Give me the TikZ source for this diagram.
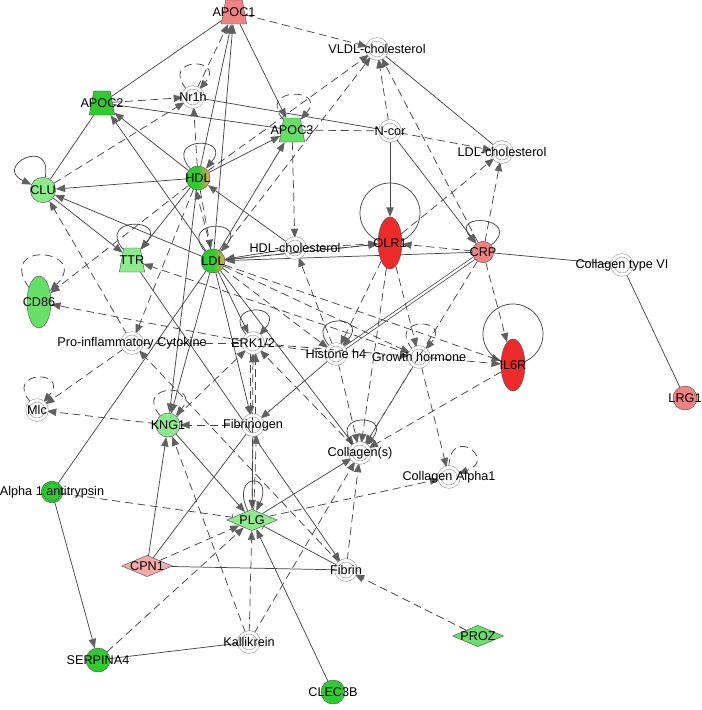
\documentclass[tikz,border=0pt]{standalone}
\usepackage{fontspec}
\setmainfont{Liberation Sans}
\usetikzlibrary{shapes.geometric,arrows.meta,backgrounds}

\definecolor{edgegray}{HTML}{454545}
\definecolor{tipgray}{HTML}{606060}
\definecolor{greenc}{HTML}{2ECC2E}
\definecolor{midgreen}{HTML}{66E066}
\definecolor{lightgreen}{HTML}{8DEA8D}
\definecolor{pinkc}{HTML}{F08282}
\definecolor{lightpink}{HTML}{F5A9A9}
\definecolor{redc}{HTML}{EE2B2B}
\definecolor{hdlorange}{HTML}{F0A050}

\begin{document}
\begin{tikzpicture}[
    x=0.75pt, y=-0.75pt,
    font=\fontsize{9.5}{10}\selectfont,
    mol/.style={circle, draw=gray!75, double=white, double distance=2pt, line width=0.45pt, minimum size=14.5pt, inner sep=0pt},
    gene/.style={circle, draw=gray!60!black, line width=0.3pt, minimum size=18pt, inner sep=0pt},
    enzyme/.style={diamond, draw=gray!60!black, line width=0.3pt, minimum width=38pt, minimum height=16pt, inner sep=1pt},
    transp/.style={trapezium, trapezium left angle=75, trapezium right angle=75, trapezium stretches=true, draw=gray!60!black, line width=0.3pt, minimum width=19pt, minimum height=18pt, inner sep=1pt},
    recept/.style={ellipse, draw=gray!60!black, line width=0.3pt, minimum width=18pt, minimum height=39pt, inner sep=1pt},
    hdlshade/.style={left color=greenc, right color=hdlorange, middle color=greenc},
    plainline/.style={draw=edgegray, line width=0.55pt},
    dashedline/.style={plainline, dash pattern=on 6pt off 3.5pt},
    solidarrow/.style={plainline, -{Triangle[length=7pt,width=5.5pt,color=tipgray]}},
    dashedarrow/.style={dashedline, -{Triangle[length=7pt,width=5.5pt,color=tipgray]}},
    inhibit/.style={dashedline, -{Bar[width=6pt,color=tipgray]}},
    selfloop/.style={loop, out=130, in=50, min distance=32pt},
]
\useasboundingbox (0,0) rectangle (702,710);

% Lipids and apolipoproteins
\node[transp, fill=pinkc, label=center:APOC1] (apoc1) at (234,12) {};
\node[transp, fill=greenc, label=center:APOC2] (apoc2) at (102,103) {};
\node[transp, fill=midgreen, label=center:APOC3] (apoc3) at (292,130) {};
\node[mol, label=center:Nr1h] (nr1h) at (193,97) {};
\node[mol, label=center:VLDL-cholesterol] (vldl) at (377,49) {};
\node[mol, label=center:N-cor] (ncor) at (390,131) {};
\node[mol, label=center:LDL-cholesterol] (ldlchol) at (502,152) {};
\node[gene, fill=lightgreen, minimum size=19pt, label=center:CLU] (clu) at (43,190) {};
\node[gene, hdlshade, label=center:HDL] (hdl) at (198,178) {};
\node[gene, hdlshade, label=center:LDL] (ldl) at (213,261) {};
\node[transp, fill=lightgreen, label=center:TTR] (ttr) at (132,260) {};
\node[mol, label=center:HDL-cholesterol] (hdlchol) at (295,248) {};
\node[recept, fill=redc, label=center:OLR1] (olr1) at (390,243) {};
\node[gene, fill=pinkc, minimum size=16pt, label=center:CRP] (crp) at (483,252) {};
\node[mol, label=center:Collagen type VI] (coll6) at (622,265) {};
\node[gene, fill=pinkc, label=center:LRG1] (lrg1) at (685,398) {};

% Signalling
\node[recept, fill=midgreen, label=center:CD86] (cd86) at (39,302) {};
\node[mol, label=center:Pro-inflammatory Cytokine] (proinf) at (132,343) {};
\node[mol, label=center:ERK1/2] (erk) at (253,343) {};
\node[mol, label=center:Histone h4] (histone) at (336,354) {};
\node[mol, label=center:Growth hormone] (ghormone) at (419,357) {};
\node[recept, fill=redc, label=center:IL6R] (il6r) at (513,365) {};
\node[mol, label=center:Mlc] (mlc) at (37,410) {};
\node[gene, fill=lightgreen, label=center:KNG1] (kng1) at (168,425) {};
\node[mol, label=center:Fibrinogen] (fibrinogen) at (253,425) {};
\node[mol, label=center:Collagen(s)] (collagens) at (360,453) {};
\node[mol, label=center:Collagen Alpha1] (collalpha) at (449,477) {};

% Coagulation
\node[gene, fill=greenc, double=greenc, double distance=1pt, minimum size=15pt, label=center:Alpha 1 antitrypsin] (alpha1) at (52,492) {};
\node[enzyme, fill=lightgreen, label=center:PLG] (plg) at (252,520) {};
\node[enzyme, fill=lightpink, label=center:CPN1] (cpn1) at (147,566) {};
\node[mol, label=center:Fibrin] (fibrin) at (346,570) {};
\node[enzyme, fill=midgreen, label=center:PROZ] (proz) at (478,636) {};
\node[mol, label=center:Kallikrein] (kallikrein) at (249,642) {};
\node[gene, fill=greenc, label=center:SERPINA4] (serpina4) at (98,660) {};
\node[gene, fill=greenc, label=center:CLEC3B] (clec3b) at (333,692) {};

\begin{scope}[on background layer]
\fill[white] (0,0) rectangle (702,710);

% direct interactions
\draw[plainline] (apoc2) -- (apoc1);
\draw[plainline] (clu) -- (apoc2);
\draw[plainline] (apoc2) -- (apoc3);
\draw[plainline] (nr1h) -- (ncor);
\draw[plainline] (vldl) -- (ldlchol);
\draw[plainline] (crp) -- (coll6);
\draw[plainline] (coll6) -- (lrg1);
\draw[plainline] (alpha1) -- (ldl);
\draw[plainline] (cpn1) -- (fibrinogen);
\draw[plainline] (cpn1) -- (fibrin);
\draw[plainline] (serpina4) -- (kallikrein);
\draw[plainline, double=white, double distance=1.6pt] (crp) -- (histone);
\draw[solidarrow] (apoc1) -- (apoc3);
\draw[solidarrow] (hdl) -- (apoc1);
\draw[solidarrow] (ldl) -- (apoc1);
\draw[solidarrow] (hdl) -- (apoc2);
\draw[solidarrow] (ldl) -- (apoc2);
\draw[solidarrow] (hdl) -- (apoc3);
\draw[solidarrow] (ldl) -- (apoc3);
\draw[solidarrow] (hdl) -- (clu);
\draw[solidarrow] (ldl) -- (clu);
\draw[solidarrow] (clu) -- (ttr);
\draw[solidarrow] (hdl) -- (ttr);
\draw[solidarrow] (ncor) -- (olr1);
\draw[solidarrow] (ncor) -- (crp);
\draw[solidarrow] (hdlchol) -- (ldl);
\draw[solidarrow] (olr1) -- (ldl);
\draw[solidarrow] (crp) -- (ldl);
\draw[solidarrow, {Triangle[length=7pt,width=5.5pt,color=tipgray]}-] (hdl) -- (hdlchol);
\draw[solidarrow] (hdl) -- (kng1);
\draw[solidarrow] (ldl) -- (kng1);
\draw[solidarrow] (ldl) -- (erk);
\draw[solidarrow] (ldl) -- (fibrinogen);
\draw[solidarrow] (ldl) -- (collagens);
\draw[solidarrow] (histone) -- (fibrinogen);
\draw[solidarrow] (fibrinogen) -- (plg);
\draw[solidarrow] (kng1) -- (plg);
\draw[solidarrow] (plg) -- (collagens);
\draw[solidarrow, {Bar[width=6pt,color=tipgray]}-] (plg) -- (fibrin);
\draw[solidarrow] (clec3b) -- (plg);
\draw[solidarrow] (alpha1) -- (serpina4);
\draw[solidarrow] (cpn1) -- (kng1);
\draw[solidarrow] (ttr) -- (fibrin);

% indirect interactions
\draw[dashedline] (apoc3) -- (ncor);
\draw[dashedline] (proinf) -- (erk);
\draw[dashedline] (erk) -- (histone);
\draw[dashedarrow] (apoc1) -- (vldl);
\draw[dashedarrow] (nr1h) -- (apoc1);
\draw[dashedarrow] (apoc2) -- (nr1h);
\draw[dashedarrow] (clu) -- (nr1h);
\draw[dashedarrow] (hdl) -- (nr1h);
\draw[dashedarrow] (ncor) -- (vldl);
\draw[dashedarrow] (crp) -- (vldl);
\draw[dashedarrow] (hdl) -- (vldl);
\draw[dashedarrow] (ldl) -- (vldl);
\draw[dashedarrow] (ncor) -- (ldlchol);
\draw[dashedarrow] (olr1) -- (ldlchol);
\draw[dashedarrow] (crp) -- (ldlchol);
\draw[dashedarrow] (apoc3) -- (hdlchol);
\draw[dashedarrow] (hdl) -- (ldl);
\draw[dashedarrow] (ldl.100) -- (hdl.260);
\draw[dashedarrow] (hdlchol) -- (olr1);
\draw[dashedarrow] (ldl) -- (olr1);
\draw[dashedarrow] (crp) -- (olr1);
\draw[dashedarrow] (crp) -- (il6r);
\draw[dashedarrow] (ghormone) -- (il6r);
\draw[dashedarrow] (ldl) -- (il6r);
\draw[dashedarrow] (il6r) -- (collagens);
\draw[dashedarrow] (ldl) -- (ghormone);
\draw[dashedarrow] (ldl) -- (histone);
\draw[dashedarrow] (olr1) -- (histone);
\draw[dashedarrow] (olr1) -- (collagens);
\draw[dashedarrow] (olr1) -- (ghormone);
\draw[dashedarrow] (crp) -- (collagens);
\draw[dashedarrow] (ghormone) -- (collagens);
\draw[dashedarrow] (ghormone) -- (collalpha);
\draw[dashedarrow] (ghormone) -- (ttr);
\draw[dashedarrow] (histone) -- (collagens);
\draw[dashedarrow] (histone) -- (hdlchol);
\draw[dashedarrow] (erk) -- (ghormone);
\draw[dashedarrow] (proinf) -- (mlc);
\draw[dashedarrow] (proinf) -- (clu);
\draw[dashedarrow] (hdl) -- (proinf);
\draw[dashedarrow] (fibrin) -- (proinf);
\draw[dashedarrow] (hdl) -- (cd86);
\draw[dashedarrow] (erk) -- (cd86);
\draw[dashedarrow] (kng1) -- (mlc);
\draw[dashedarrow] (fibrinogen) -- (kng1);
\draw[dashedarrow] (erk.255) -- (fibrinogen.105);
\draw[dashedarrow] (fibrinogen.75) -- (erk.285);
\draw[dashedarrow] (kng1) -- (erk);
\draw[dashedarrow] (collagens) -- (erk);
\draw[dashedarrow] (plg) -- (erk);
\draw[dashedarrow] (plg.80) -- (fibrinogen.290);
\draw[dashedarrow] (cpn1) -- (plg);
\draw[dashedarrow] (serpina4) -- (plg);
\draw[dashedarrow] (kallikrein) -- (plg);
\draw[dashedarrow] (kallikrein) -- (kng1);
\draw[dashedarrow] (kallikrein) -- (collagens);
\draw[dashedarrow] (proz) -- (fibrin);
\draw[dashedarrow] (fibrin) -- (collagens);
\draw[dashedarrow] (plg) -- (collalpha);
\draw[inhibit] (alpha1) -- (plg);

% self loops
\path (hdl) edge[solidarrow, selfloop] (hdl);
\path (ldl) edge[solidarrow, selfloop] (ldl);
\path (ttr) edge[solidarrow, selfloop] (ttr);
\path (clu) edge[solidarrow, selfloop, out=80, in=155] (clu);
\path (apoc3) edge[dashedarrow, selfloop] (apoc3);
\path (nr1h) edge[dashedarrow, selfloop] (nr1h);
\path (cd86) edge[dashedarrow, selfloop, out=125, in=45, min distance=44pt] (cd86);
\path (mlc) edge[dashedarrow, selfloop] (mlc);
\path (kng1) edge[dashedarrow, selfloop] (kng1);
\path (erk) edge[solidarrow, selfloop] (erk);
\path (histone) edge[solidarrow, selfloop] (histone);
\path (ghormone) edge[dashedarrow, selfloop] (ghormone);
\path (collagens) edge[solidarrow, selfloop] (collagens);
\path (collalpha) edge[dashedarrow, selfloop, out=90, in=20] (collalpha);
\path (plg) edge[solidarrow, selfloop, out=115, in=65] (plg);
\path (crp) edge[solidarrow, selfloop, out=40, in=130] (crp);
\draw[plainline] (olr1.center) ++(0,-30) circle[radius=22.5pt];
\draw[plainline] (il6r.center) ++(0,-31) circle[radius=22.5pt];
\end{scope}

\end{tikzpicture}
\end{document}
